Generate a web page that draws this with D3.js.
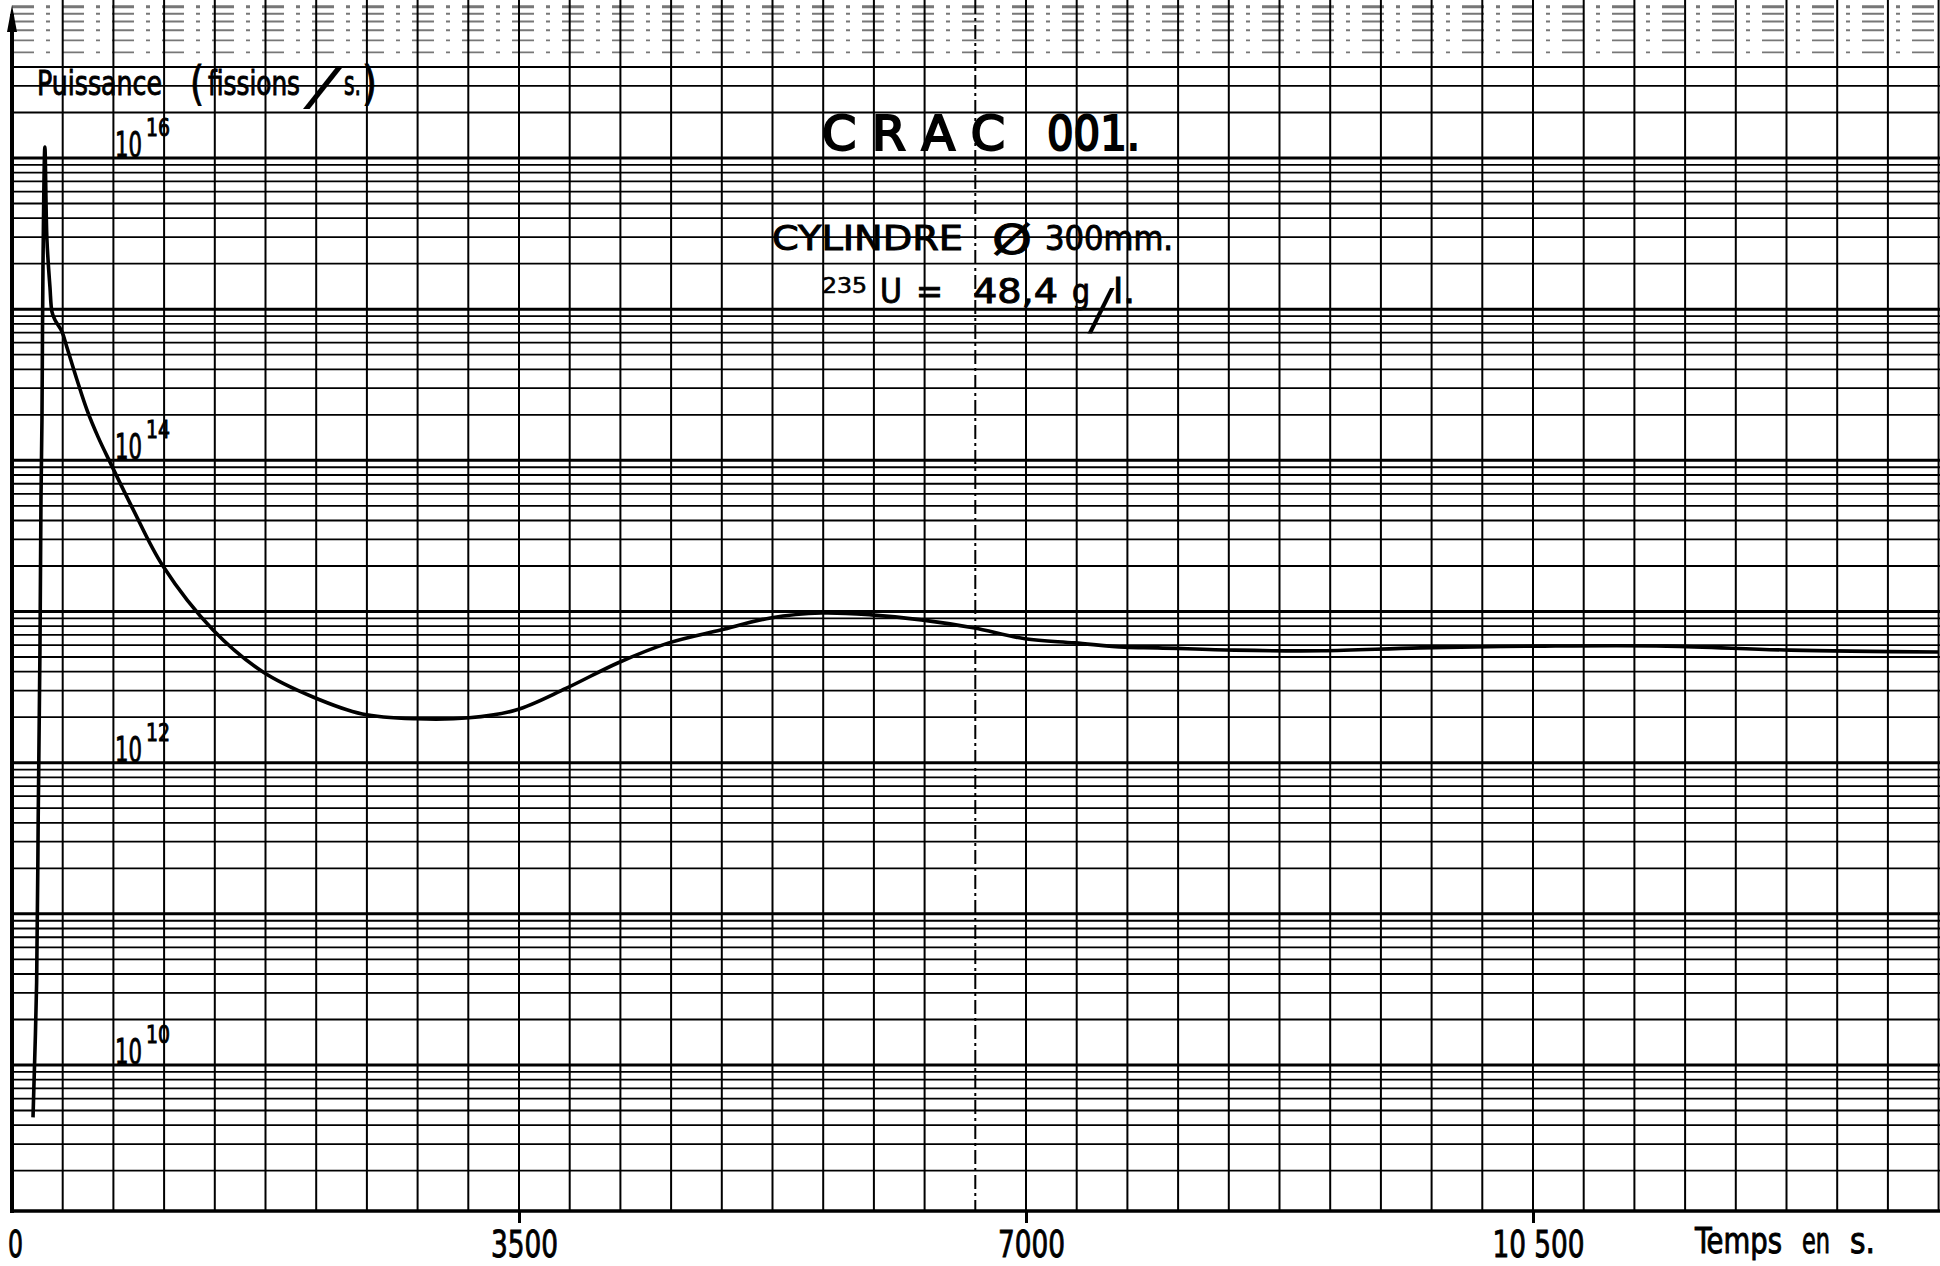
<!DOCTYPE html>
<html>
<head>
<meta charset="utf-8">
<script src="https://cdn.jsdelivr.net/npm/d3@7"></script>
<style>
  body { margin: 0; background: #fff; }
  svg { display: block; background: #fff; }
</style>
</head>
<body>
<div id="chart"></div>
<script>
// CRAC 001 : puissance (fissions/s) en fonction du temps, papier semi-log

// Data
var timeSec = [145, 170, 181, 193, 200, 207, 214, 227, 241, 262, 276, 296, 345, 379, 449, 518,
  594, 676, 835, 1042, 1388, 1733, 2078, 2418, 2790, 3156, 3479, 3824, 4189, 4534, 4892, 5236,
  5588, 5932, 6277, 6635, 6993, 7338, 7682, 7910, 8440, 9040, 9722, 10576, 11424, 12278, 13300];
var fissions = [4.5e9, 3.5e10, 4.4e11, 5.6e12, 5.5e13, 1.9e14, 2.0e15, 1.18e16, 2.9e15, 1.4e15, 9.6e14, 8.5e14, 7.1e14, 5.6e14, 3.4e14, 2.15e14,
  1.43e14, 9.75e13, 4.76e13, 2.0e13, 7.55e12, 3.98e12, 2.72e12, 2.1e12, 1.95e12, 1.98e12, 2.23e12, 3.1e12, 4.6e12, 6.2e12, 7.55e12, 9.06e12,
  9.77e12, 9.5e12, 8.8e12, 7.8e12, 6.6e12, 6.2e12, 5.8e12, 5.75e12, 5.55e12, 5.5e12, 5.75e12, 5.9e12, 5.9e12, 5.55e12, 5.4e12];

// Axis ticks and labels
var xTickValues = [0, 3500, 7000, 10500];
var xTickLabels = ["0", "3500", "7000", "10 500"];
var decadeLabels = [10, 12, 14, 16];
var gridStep = 350; // one vertical line every 350 s
var tMax = 13300;

// Set chart size
var width = 1940,
  height = 1266,
  axisX = 12,
  axisY = 1211;

var FONT = "'DejaVu Sans Condensed', 'DejaVu Sans', sans-serif";

// Set ranges
var x = d3.scaleLinear()
  .domain([0, tMax])
  .range([axisX, 1938.6]);

var y = d3.scaleLog()
  .domain([1e10, 1e16])
  .range([1065, 158]);

var svg = d3.select("#chart")
  .append("svg")
  .attr("width", width)
  .attr("height", height);

// Horizontal log grid : 1..9 in every decade
var hLines = [];
for (var e = 9; e <= 17; e++) {
  for (var k = 1; k <= 9; k++) {
    var v = k * Math.pow(10, e);
    var py = y(v);
    if (py >= 2 && py < axisY - 2) hLines.push({ v: v, major: k === 1, y: py });
  }
}

svg.append("g")
  .selectAll("line")
  .data(hLines)
  .enter()
  .append("line")
  .attr("x1", axisX)
  .attr("x2", width)
  .attr("y1", function (d) { return d.y; })
  .attr("y2", function (d) { return d.y; })
  .attr("stroke", function (d) { return d.y < 60 ? "#777" : "#000"; })
  .attr("stroke-width", function (d) { return d.major ? 3 : 1.8; })
  .attr("stroke-dasharray", function (d) { return d.y < 60 ? "22,12,4,12" : null; });

// Vertical grid every 350 s
var vLines = d3.range(gridStep, tMax + 1, gridStep);

svg.append("g")
  .selectAll("line")
  .data(vLines)
  .enter()
  .append("line")
  .attr("x1", function (d) { return x(d); })
  .attr("x2", function (d) { return x(d); })
  .attr("y1", 0)
  .attr("y2", axisY)
  .attr("stroke", "#000")
  .attr("stroke-width", 2)
  .attr("stroke-dasharray", function (d) { return d === 6650 ? "14,4,3,4" : null; });

// The curve
var line = d3.line()
  .x(function (d) { return x(d[0]); })
  .y(function (d) { return y(d[1]); })
  .curve(d3.curveCatmullRom.alpha(0.5));

svg.append("path")
  .datum(d3.zip(timeSec, fissions))
  .attr("fill", "none")
  .attr("stroke", "#000")
  .attr("stroke-width", 3.6)
  .attr("stroke-linejoin", "round")
  .attr("d", line);

// Axes
svg.append("line")
  .attr("x1", axisX).attr("x2", axisX)
  .attr("y1", 14).attr("y2", axisY + 2)
  .attr("stroke", "#000").attr("stroke-width", 4);

svg.append("path")
  .attr("d", "M" + axisX + ",5L" + (axisX + 5) + ",32L" + (axisX - 5) + ",32Z")
  .attr("fill", "#000");

svg.append("line")
  .attr("x1", axisX - 2).attr("x2", width)
  .attr("y1", axisY).attr("y2", axisY)
  .attr("stroke", "#000").attr("stroke-width", 3.5);

var xaxis = svg.append("g")
  .attr("transform", "translate(0," + axisY + ")")
  .call(d3.axisBottom(x)
    .tickValues(xTickValues)
    .tickSizeInner(12)
    .tickSizeOuter(0)
    .tickFormat(function (d, i) { return xTickLabels[i]; }));

xaxis.select(".domain").remove();
xaxis.selectAll(".tick line")
  .attr("stroke", "#000")
  .attr("stroke-width", 3)
  .style("display", function (d) { return d === 0 ? "none" : null; });
xaxis.selectAll(".tick text")
  .attr("y", 46)
  .attr("dy", 0)
  .attr("x", function (d) { return d === 0 ? 3 : 5; })
  .attr("fill", "#000")
  .attr("stroke", "#000")
  .attr("stroke-width", 0.9)
  .style("font-family", FONT)
  .style("font-size", "38px")
  .attr("textLength", function (d, i) { return [15, 67, 67, 92][i]; })
  .attr("lengthAdjust", "spacingAndGlyphs");

// Text helper
function addText(px, py, str, size, len, weight) {
  var t = svg.append("text")
    .attr("x", px)
    .attr("y", py)
    .attr("fill", "#000")
    .attr("stroke", "#000")
    .attr("stroke-width", weight || 0.9)
    .style("font-family", FONT)
    .style("font-size", size + "px")
    .text(str);
  if (len) t.attr("textLength", len).attr("lengthAdjust", "spacingAndGlyphs");
  return t;
}

// Long thin slash used in the hand lettering
function addSlash(px, py, size, len) {
  return svg.append("text")
    .attr("x", px)
    .attr("y", py)
    .attr("fill", "#000")
    .style("font-family", "'DejaVu Sans ExtraLight', 'DejaVu Sans'")
    .style("font-weight", 200)
    .style("font-size", size + "px")
    .attr("textLength", len)
    .attr("lengthAdjust", "spacingAndGlyphs")
    .text("/");
}

// Decade labels on the y axis
decadeLabels.forEach(function (p) {
  var py = y(Math.pow(10, p));
  addText(115, py - 1, "10", 35, 27);
  addText(146, py - 22, String(p), 25, 24);
});

// Y axis title
addText(37, 95, "Puissance", 34, 125);
addText(190, 99, "(", 46, 14);
addText(208, 95, "fissions", 34, 92);
addSlash(301, 104, 50, 43);
addText(344, 95, "s.", 34, 17);
addText(362, 99, ")", 46, 15);

// X axis title
addText(1695, 1253, "Temps", 36, 87);
addText(1802, 1253, "en", 36, 28);
addText(1850, 1253, "s.", 36, 25);

// Title block
addText(822, 150, "C R A C", 48, 183, 2);
addText(1047, 150, "001.", 48, 93, 2);
addText(772, 250, "CYLINDRE", 34, 191);
addText(992, 254, "Ø", 40, 40);
addText(1045, 250, "300mm.", 34, 128);
addText(822, 293, "235", 22, 45, 0.6);
addText(880, 303, "U", 34, 22);
addText(916, 303, "=", 34, 27);
addText(973, 303, "48,4", 34, 85);
addText(1072, 303, "g", 34, 18);
addSlash(1086, 328, 56, 30);
addText(1113, 303, "l.", 34, 22);
</script>
</body>
</html>
